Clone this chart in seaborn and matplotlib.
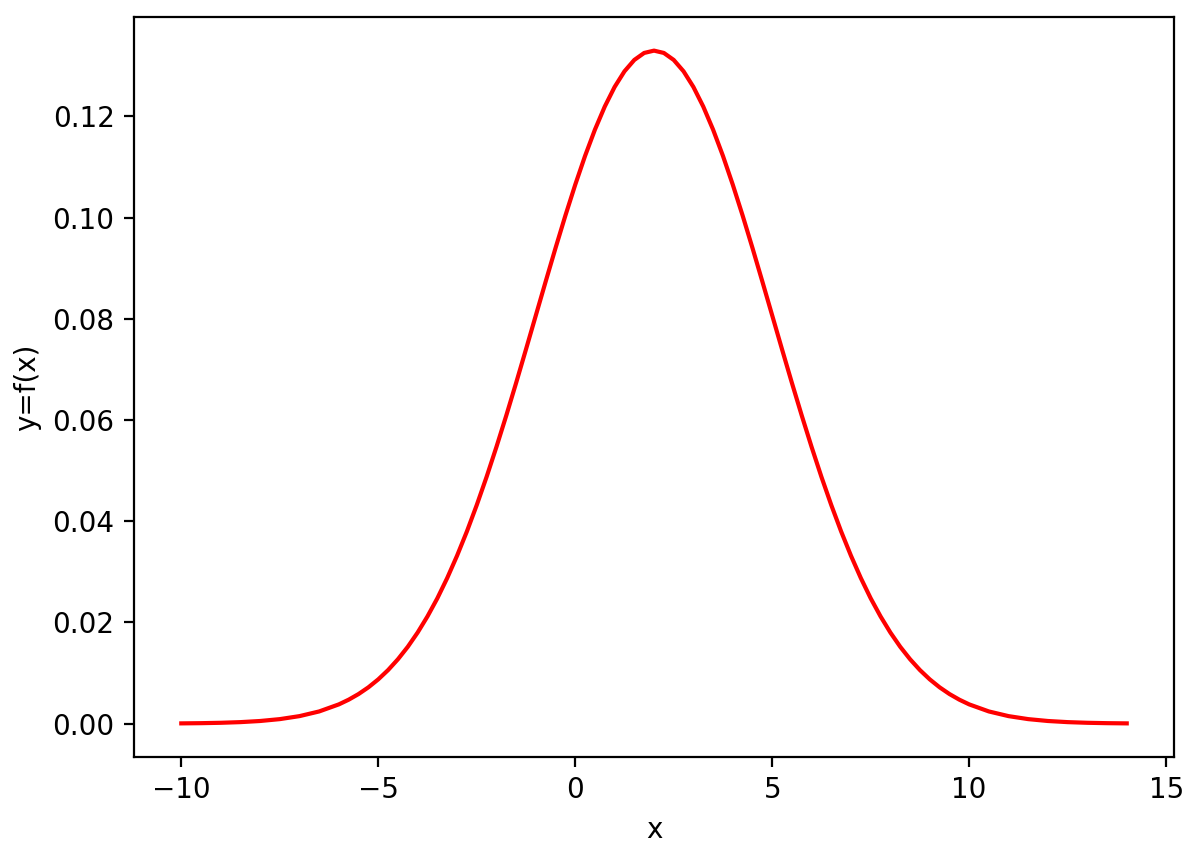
import numpy as np
import matplotlib.pyplot as plt
import seaborn as sns

# values (denser where it bends)
x_vals = [-10, -9.5, -9, -8.5, -8, -7.5, -7, -6.5,
          -6, -5.75, -5.5, -5.25, -5, -4.75, -4.5, -4.25,
          -4, -3.75, -3.5, -3.25, -3, -2.75, -2.5, -2.25,
          -2, -1.75, -1.5, -1.25, -1, -0.75, -0.5, -0.25,
          0, 0.25, 0.5, 0.75, 1, 1.25, 1.5, 1.75,
          2, 2.25, 2.5, 2.75, 3, 3.25, 3.5, 3.75,
          4, 4.25, 4.5, 4.75, 5, 5.25, 5.5, 5.75,
          6, 6.25, 6.5, 6.75, 7, 7.25, 7.5, 7.75,
          8, 8.25, 8.5, 8.75, 9, 9.25, 9.5, 9.75,
          10, 10.5, 11, 11.5, 12, 12.5, 13, 13.5, 14]
y_vals = [0.0000446, 0.0000858, 0.00016, 0.000291, 0.000514, 0.000884, 0.001477, 0.002402,
          0.003799, 0.00473, 0.005843, 0.00717, 0.008741, 0.01058, 0.01272, 0.01518,
          0.0180, 0.02119, 0.02476, 0.02876, 0.03317, 0.03797, 0.04318, 0.04875,
          0.05467, 0.06088, 0.06733, 0.07395, 0.08066, 0.08736, 0.09397, 0.10038,
          0.10648, 0.11218, 0.11736, 0.12193, 0.1258, 0.12889, 0.13114, 0.13252,
          0.13298, 0.13252, 0.13114, 0.12889, 0.1258, 0.12193, 0.11736, 0.11218,
          0.10648, 0.10038, 0.09397, 0.08736, 0.08066, 0.07395, 0.06733, 0.06088,
          0.05467, 0.04875, 0.04318, 0.03797, 0.03317, 0.02876, 0.02476, 0.02119,
          0.0180, 0.01518, 0.01272, 0.01058, 0.008741, 0.00717, 0.005843, 0.00473,
          0.003799, 0.002402, 0.001477, 0.000884, 0.000514, 0.000291, 0.00016, 0.0000858,
          0.0000446]

fig = plt.figure(figsize=(6.015, 4.29), dpi=200)
ax = fig.add_axes([0.1114, 0.1177, 0.9759 - 0.1114, 0.9802 - 0.1177])
sns.lineplot(x=x_vals, y=y_vals, color='red', ax=ax)
ax.set_xlabel('x')
ax.set_ylabel('y=f(x)')
ax.set_xticks([-10, -5, 0, 5, 10, 15])
fig.savefig('out.png', dpi=200)
